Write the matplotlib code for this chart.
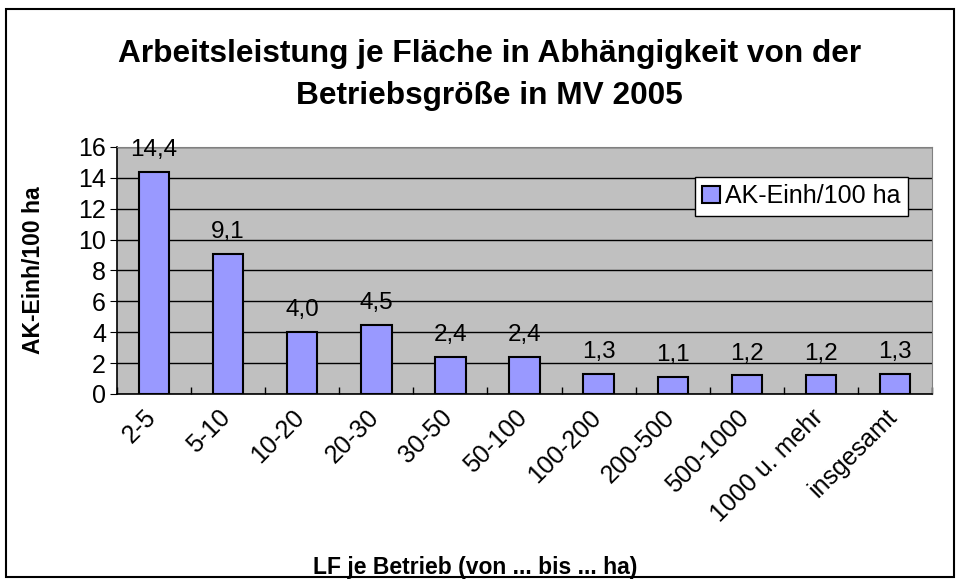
import matplotlib
matplotlib.use('Agg')
import matplotlib.pyplot as plt
from matplotlib.patches import Rectangle
import matplotlib.transforms as mtransforms
import numpy as np

categories = ['2-5', '5-10', '10-20', '20-30', '30-50', '50-100', '100-200',
              '200-500', '500-1000', '1000 u. mehr', 'insgesamt']
values = [14.4, 9.1, 4.0, 4.5, 2.4, 2.4, 1.3, 1.1, 1.2, 1.2, 1.3]
labels = ['14,4', '9,1', '4,0', '4,5', '2,4', '2,4', '1,3', '1,1', '1,2', '1,2', '1,3']

plt.rcParams['font.family'] = ['Liberation Sans', 'DejaVu Sans']

fig = plt.figure(figsize=(9.6, 5.83), dpi=100)
fig.patches.append(Rectangle((0.006, 0.01), 0.988, 0.975, transform=fig.transFigure,
                             fill=False, edgecolor='black', linewidth=1.5))

ax = fig.add_axes([0.1219, 0.3242, 0.849, 0.4237])
ax.set_facecolor('#C0C0C0')
x = np.arange(len(categories))
ax.bar(x, values, width=0.41, color='#9999FF', edgecolor='black', linewidth=1.5,
       label='AK-Einh/100 ha', zorder=3)
for xi, v, s in zip(x, values, labels):
    ax.text(xi, v + 0.7, s, ha='center', va='bottom', fontsize=17.5, zorder=4)

ax.set_xlim(-0.5, len(categories) - 0.5)
ax.set_ylim(0, 16)
ax.set_yticks(range(0, 17, 2))
ax.yaxis.grid(True, color='black', linewidth=1, zorder=0)
ax.tick_params(axis='y', labelsize=18, direction='out', length=5, pad=3)

ax.set_xticks(x)
ax.set_xticklabels(categories, rotation=45, ha='right', rotation_mode='anchor', fontsize=18)
ax.tick_params(axis='x', length=0, pad=8)
shift = mtransforms.ScaledTranslation(-10 / 100, 0, fig.dpi_scale_trans)
for lbl in ax.get_xticklabels():
    lbl.set_transform(lbl.get_transform() + shift)
ax.set_xticks(np.arange(-0.5, len(categories)), minor=True)
ax.tick_params(axis='x', which='minor', direction='in', length=5, width=1)

for side in ['top', 'right']:
    ax.spines[side].set_color('#808080')
for side in ['left', 'bottom']:
    ax.spines[side].set_color('black')
    ax.spines[side].set_linewidth(1.2)

ax.set_ylabel('AK-Einh/100 ha', fontsize=16.5, fontweight='bold')
ax.yaxis.set_label_coords(-0.088, 0.5)
ax.set_xlabel('LF je Betrieb (von ... bis ... ha)', fontsize=16.5, fontweight='bold')
ax.xaxis.set_label_coords(0.44, -0.655)

leg = ax.legend(loc='upper right', bbox_to_anchor=(0.97, 0.88), fontsize=18, fancybox=False,
                framealpha=1, edgecolor='black', handlelength=0.7, handleheight=0.7,
                handletextpad=0.2, borderpad=0.3, borderaxespad=0)
leg.get_frame().set_linewidth(1)

fig.text(0.51, 0.907, 'Arbeitsleistung je Fläche in Abhängigkeit von der', ha='center',
         va='center', fontsize=22.8, fontweight='bold')
fig.text(0.51, 0.835, 'Betriebsgröße in MV 2005', ha='center', va='center',
         fontsize=22.8, fontweight='bold')

fig.savefig('out.png', dpi=100)
